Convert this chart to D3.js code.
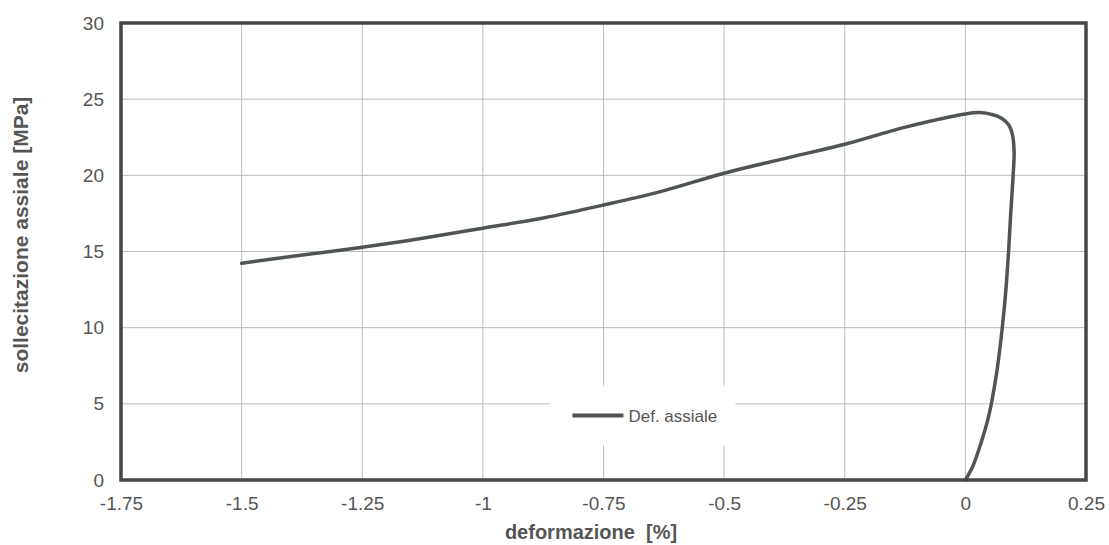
<!DOCTYPE html>
<html lang="en">
<head>
    <meta charset="UTF-8">
    <title>Def. assiale</title>
    <style>
        body { margin: 0; background: #fff; overflow: hidden; }
        text { font-family: "Liberation Sans", Arial, sans-serif; fill: #555; }
    </style>
</head>
<body>
    <script src="https://d3js.org/d3.v7.min.js"></script>
    <script>
        // strain [%] and axial stress [MPa], in loading order
        const strain = [0, 0.014, 0.028, 0.038, 0.046, 0.0525, 0.0595, 0.0665, 0.0765, 0.084, 0.0895, 0.094, 0.099, 0.101, 0.098, 0.090, 0.075, 0.057, 0.030, 0,
                        -0.12, -0.25, -0.375, -0.5, -0.63, -0.75, -0.875, -1, -1.125, -1.25, -1.39, -1.5];
        const stress = [0, 0.8, 2.0, 3.0, 3.9, 4.8, 6.0, 7.4, 10, 12.5, 15, 17.5, 20, 21.5, 22.6, 23.3, 23.75, 23.98, 24.12, 24.03,
                        23.2, 22.04, 21.1, 20.14, 18.95, 18.05, 17.2, 16.53, 15.87, 15.28, 14.7, 14.23];
        const xTicks = [-1.75, -1.5, -1.25, -1, -0.75, -0.5, -0.25, 0, 0.25];
        const yTicks = [0, 5, 10, 15, 20, 25, 30];
        const seriesName = "Def. assiale";

        const width = 1109, height = 545;
        const margin = { left: 121, top: 23, right: 23, bottom: 65 };

        const svg = d3.select('body').append('svg')
            .attr('width', width)
            .attr('height', height);

        const x = d3.scaleLinear().domain([-1.75, 0.25]).range([margin.left, width - margin.right]);
        const y = d3.scaleLinear().domain([0, 30]).range([height - margin.bottom, margin.top]);

        // grid
        svg.append('g').selectAll('line.gx')
            .data(xTicks.slice(1, -1))
            .enter().append('line')
            .attr('x1', d => x(d)).attr('x2', d => x(d))
            .attr('y1', y(30)).attr('y2', y(0))
            .attr('stroke', '#bdbdbd').attr('stroke-width', 1);
        svg.append('g').selectAll('line.gy')
            .data(yTicks.slice(1, -1))
            .enter().append('line')
            .attr('x1', x(-1.75)).attr('x2', x(0.25))
            .attr('y1', d => y(d)).attr('y2', d => y(d))
            .attr('stroke', '#bdbdbd').attr('stroke-width', 1);

        // axes (labels only, frame drawn separately)
        const xAxis = svg.append('g')
            .attr('transform', `translate(0,${y(0)})`)
            .call(d3.axisBottom(x).tickValues(xTicks).tickSize(0).tickPadding(17).tickFormat(d => String(d)));
        const yAxis = svg.append('g')
            .attr('transform', `translate(${x(-1.75)},0)`)
            .call(d3.axisLeft(y).tickValues(yTicks).tickSize(0).tickPadding(17));
        [xAxis, yAxis].forEach(a => {
            a.select('.domain').remove();
            a.selectAll('text').attr('font-size', 19).attr('font-family', '"Liberation Sans", Arial, sans-serif').attr('fill', '#5a5a5a');
        });

        // legend box (covers grid)
        const lg = svg.append('g').attr('transform', `translate(${x(-0.86)},${y(6.2)})`);
        lg.append('rect').attr('width', 185).attr('height', 60).attr('fill', '#fff');
        lg.append('line').attr('x1', 22).attr('x2', 73).attr('y1', 30).attr('y2', 30)
            .attr('stroke', '#4f5454').attr('stroke-width', 4);
        lg.append('text').attr('x', 78).attr('y', 36).attr('font-size', 17).attr('fill', '#5a5a5a').text(seriesName);

        // curve
        const pts = strain.map((s, i) => [s, stress[i]]);
        svg.append('path')
            .datum(pts)
            .attr('d', d3.line().x(d => x(d[0])).y(d => y(d[1])).curve(d3.curveCatmullRom.alpha(0.5)))
            .attr('fill', 'none')
            .attr('stroke', '#4f5454')
            .attr('stroke-width', 3.5)
            .attr('stroke-linejoin', 'round')
            .attr('stroke-linecap', 'round');

        // plot frame
        svg.append('rect')
            .attr('x', x(-1.75)).attr('y', y(30))
            .attr('width', x(0.25) - x(-1.75)).attr('height', y(0) - y(30))
            .attr('fill', 'none').attr('stroke', '#464646').attr('stroke-width', 3.5);

        // axis titles
        svg.append('text')
            .attr('x', 591).attr('y', 539)
            .attr('text-anchor', 'middle')
            .attr('font-size', 20).attr('font-weight', 'bold').attr('fill', '#444')
            .attr('xml:space', 'preserve')
            .text('deformazione  [%]');
        svg.append('text')
            .attr('transform', 'translate(28,235) rotate(-90)')
            .attr('text-anchor', 'middle')
            .attr('font-size', 21).attr('font-weight', 'bold').attr('fill', '#444')
            .text('sollecitazione assiale [MPa]');
    </script>
</body>
</html>
